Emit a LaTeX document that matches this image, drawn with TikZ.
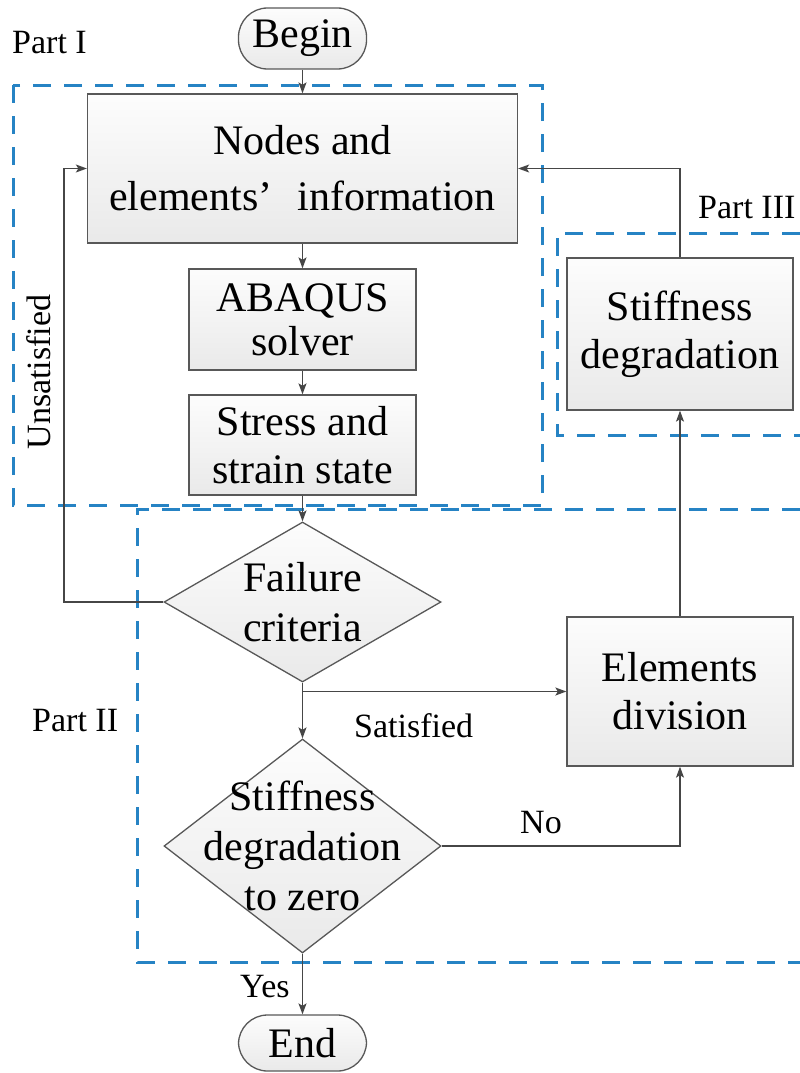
\documentclass[tikz,border=0pt]{standalone}
\usepackage{fontspec}
\setmainfont{Liberation Serif}
\usetikzlibrary{arrows.meta,shapes.geometric}
\definecolor{dashblue}{RGB}{38,131,196}
\definecolor{edgegray}{RGB}{88,88,88}
\definecolor{linegray}{RGB}{70,70,70}
\begin{document}
\begin{tikzpicture}[x=1pt,y=-1pt,
  box/.style={draw=edgegray, line width=1.3pt, top color=gray!2, bottom color=gray!17, inner sep=0pt, align=center, font=\fontsize{42}{48}\selectfont},
  term/.style={box, rounded corners=29pt},
  dia/.style={shape=diamond, draw=edgegray, line width=1.3pt, top color=gray!2, bottom color=gray!17, inner sep=0pt},
  dtext/.style={align=center, font=\fontsize{42}{50}\selectfont, inner sep=0pt},
  lbl/.style={font=\fontsize{34}{40}\selectfont, inner sep=0pt},
  conn/.style={draw=linegray, line width=1.3pt},
  arr/.style={conn, -{Stealth[length=11pt,width=8pt,inset=2.5pt]}},
  part/.style={draw=dashblue, line width=3pt, dash pattern=on 18pt off 13pt}
]
\useasboundingbox (0,0) rectangle (800,1073);

% dashed part frames
\draw[part] (13,85) rectangle (542,505);
\draw[part] (800,509) -- (137,509) -- (137,962) -- (800,962);
\draw[part] (800,233) -- (557,233) -- (557,435) -- (800,435);

% nodes
\node[term, minimum width=128pt, minimum height=61pt] (begin) at (302.5,38.5) {Begin};
\node[box, minimum width=430pt, minimum height=149pt, font=\fontsize{42}{56}\selectfont] (nodes) at (302.5,168.5) {Nodes and\\elements’\hspace{0.6em}information};
\node[box, minimum width=227pt, minimum height=101pt, font=\fontsize{42}{44}\selectfont] (abaqus) at (302.5,319.5) {ABAQUS\\solver};
\node[box, minimum width=227pt, minimum height=100pt] (stress) at (302.5,445) {Stress and\\strain state};
\node[dia, minimum width=277pt, minimum height=160pt] (failure) at (302.5,602) {};
\node[dtext] (failuretext) at (failure.center) {Failure\\criteria};
\node[dia, minimum width=277pt, minimum height=214pt] (sdiam) at (302.5,846) {};
\node[dtext] (sdiamtext) at (sdiam.center) {Stiffness\\degradation\\to zero};
\node[box, minimum width=226pt, minimum height=149pt] (elements) at (680,691.5) {Elements\\division};
\node[box, minimum width=226pt, minimum height=152pt] (stiff) at (680,334) {Stiffness\\degradation};
\node[term, minimum width=128pt, minimum height=56pt] (end) at (302.5,1043) {End};

% labels
\node[lbl, anchor=base west] (p1) at (12,53) {Part I};
\node[lbl, anchor=base west] (p2) at (32,731) {Part II};
\node[lbl, anchor=base west] (p3) at (698,218) {Part III};
\node[lbl, anchor=base west] (sat) at (354,737) {Satisfied};
\node[lbl, anchor=base west] (no) at (520,833) {No};
\node[lbl, anchor=base west] (yes) at (240,997) {Yes};
\node[lbl, rotate=90] (unsat) at (39,372) {Unsatisfied};

% connectors
\coordinate (ul) at (64,602);
\coordinate (sj) at (302.5,691.5);
\draw[arr] (begin) -- (nodes);
\draw[arr] (nodes) -- (abaqus);
\draw[arr] (abaqus) -- (stress);
\draw[arr] (stress) -- (failure);
\draw[arr] (failure.south) -- (sdiam.north);
\draw[arr] (sj) -- (elements.west);
\draw[arr] (failure.west) -- (ul) |- (nodes.west);
\draw[arr] (sdiam.east) -| (elements.south);
\draw[arr] (elements.north) -- (stiff.south);
\draw[arr] (stiff.north) |- (nodes.east);
\draw[arr] (sdiam.south) -- (end.north);
\end{tikzpicture}
\end{document}
